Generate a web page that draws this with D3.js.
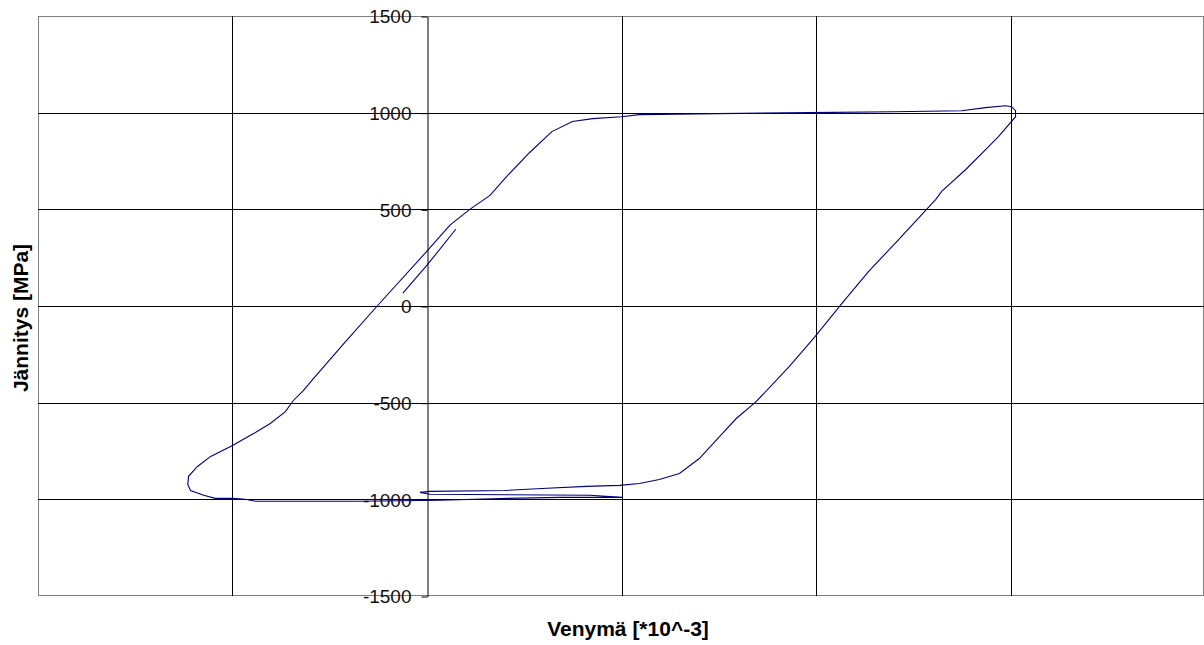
<!DOCTYPE html>
<html><head><meta charset="utf-8">
<script src="https://cdn.jsdelivr.net/npm/d3@7"></script>
<style>body{margin:0;background:#fff;} svg{display:block;}</style>
</head><body>
<svg id="chart" width="1204" height="645"></svg>
<script>
// Axis ticks
const xTicks = [-10, -5, 0, 5, 10, 15, 20];
const yTicks = [-1500, -1000, -500, 0, 500, 1000, 1500];

// Main hysteresis loop (strain *10^-3, stress MPa)
const loopStrain = [5.03,4.18,3.41,2.08,0.33,-1.72,-4.41,-4.67,-5.00,-5.44,-5.74,-6.08,-6.15,-6.13,-5.90,-5.56,-5.00,-4.46,-4.03,-3.64,-3.44,-3.18,-2.92,-2.10,-1.28,0,0.59,1.10,1.62,2.05,2.64,3.21,3.74,4.26,5.00,5.46,7.46,9.82,12.0,13.74,14.36,14.87,15.03,15.13,15.13,15.0,14.69,14.36,13.85,13.23,13.08,12.13,11.36,10.72,9.97,9.31,8.46,7.95,7.59,7.0,6.49,5.97,5.46,4.95,4.10,3.08,2.0,0.08,-0.18,0.08,4.18,5.03];
const loopStress = [-990,-990,-990,-995,-1005,-1010,-1010,-1000,-995,-995,-979,-954,-923,-881,-830,-778,-722,-660,-608,-546,-490,-438,-376,-186,0,284,418,500,572,670,794,902,954,969,979,990,995,1000,1005,1010,1026,1036,1031,1010,979,948,876,809,706,593,552,345,180,26,-160,-314,-495,-582,-660,-789,-866,-897,-918,-928,-933,-943,-954,-959,-964,-974,-979,-990];

// Initial loading segment
const initStrain = [-0.62, 0, 0.74];
const initStress = [67, 211, 397];

const svg = d3.select("#chart");
const x = d3.scaleLinear().domain([-10, 20]).range([38, 1205]);
const y = d3.scaleLinear().domain([-1500, 1500]).range([596, 16]);

const L = 38, R = 1204, T = 16, B = 596;

svg.append("rect").attr("x", 0).attr("y", 0).attr("width", 1204).attr("height", 645).attr("fill", "#fff");

const clip = svg.append("clipPath").attr("id", "plotclip");
clip.append("rect").attr("x", L).attr("y", T).attr("width", R - L).attr("height", B - T);

const px = v => Math.round(x(v)) + 0.5;
const py = v => Math.round(y(v)) + 0.5;

// plot border
svg.append("rect").attr("x", L + 0.5).attr("y", T + 0.5).attr("width", R - L - 1).attr("height", B - T - 1)
  .attr("fill", "#fff").attr("stroke", "#808080").attr("stroke-width", 1);

const grid = svg.append("g").attr("clip-path", "url(#plotclip)");
// horizontal gridlines
grid.selectAll("line.h").data(yTicks.filter(v => v > -1500 && v < 1500)).enter().append("line")
  .attr("x1", L).attr("x2", R).attr("y1", d => py(d)).attr("y2", d => py(d))
  .attr("stroke", "#000").attr("stroke-width", 1);
// vertical gridlines
grid.selectAll("line.v").data(xTicks.filter(v => v !== 0 && v > -10 && v < 20)).enter().append("line")
  .attr("y1", T).attr("y2", B).attr("x1", d => px(d)).attr("x2", d => px(d))
  .attr("stroke", "#000").attr("stroke-width", 1);

// y axis at x = 0
const yAxis = d3.axisLeft(y).tickValues(yTicks).tickSize(6).tickSizeOuter(0).tickPadding(10)
  .tickFormat(d => String(d));
const gy = svg.append("g").attr("transform", `translate(${px(0)},0.5)`).call(yAxis);
gy.select(".domain").attr("stroke", "#000");
gy.selectAll(".tick line").attr("stroke", "#000");
gy.selectAll(".tick text").attr("font-family", "Liberation Sans, Arial, sans-serif")
  .attr("font-size", 19).attr("fill", "#111").attr("dy", "0.34em");

// curves
const line = d3.line().x(d => x(d[0])).y(d => y(d[1]));
const loopData = loopStrain.map((s, i) => [s, loopStress[i]]);
const initData = initStrain.map((s, i) => [s, initStress[i]]);
const curves = svg.append("g").attr("clip-path", "url(#plotclip)");
curves.append("path").datum(loopData).attr("d", line)
  .attr("fill", "none").attr("stroke", "#000080").attr("stroke-width", 1.1);
curves.append("path").datum(initData).attr("d", line)
  .attr("fill", "none").attr("stroke", "#000080").attr("stroke-width", 1.1);

// axis titles
svg.append("text").attr("x", 628).attr("y", 636).attr("text-anchor", "middle")
  .attr("font-family", "Liberation Sans, Arial, sans-serif").attr("font-weight", "bold")
  .attr("font-size", 21).attr("fill", "#000").text("Venymä [*10^-3]");
svg.append("text").attr("transform", "translate(28,318) rotate(-90)").attr("text-anchor", "middle")
  .attr("font-family", "Liberation Sans, Arial, sans-serif").attr("font-weight", "bold")
  .attr("font-size", 21).attr("fill", "#000").text("Jännitys [MPa]");
</script>
</body></html>
